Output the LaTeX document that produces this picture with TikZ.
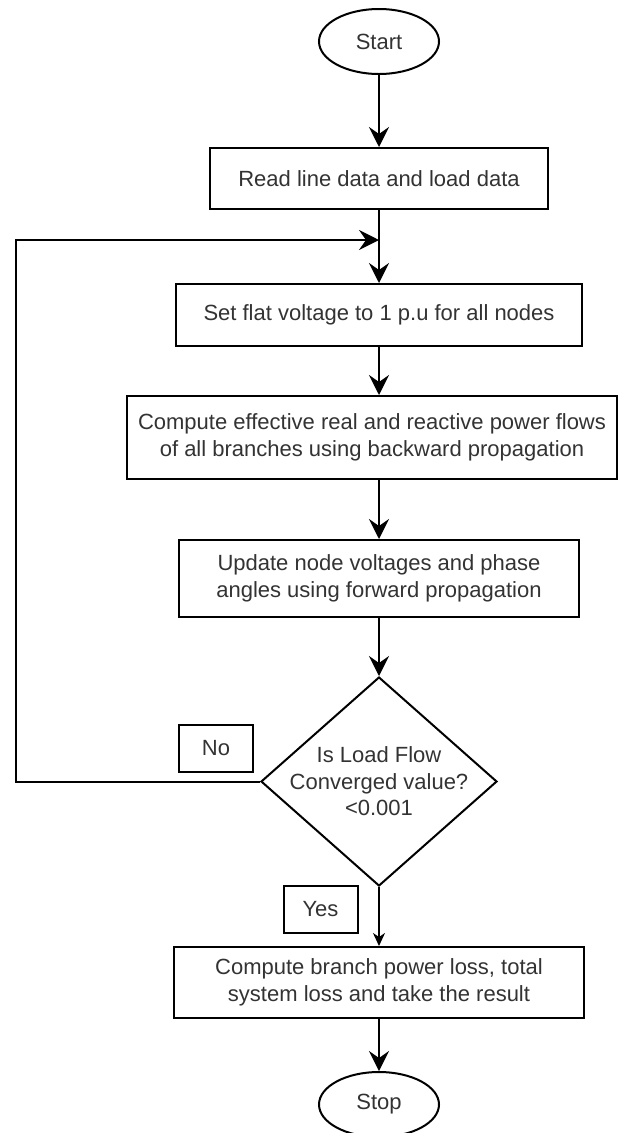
\documentclass[tikz,border=0pt]{standalone}
\usepackage{fontspec}
\setmainfont{Liberation Sans}
\usetikzlibrary{shapes.geometric,arrows.meta}

\begin{document}
\begin{tikzpicture}[x=1pt,y=-1pt,
  every node/.style={font=\fontsize{22}{26.5}\selectfont, text=black!80},
  box/.style={draw=black, line width=2pt, rectangle, inner sep=0pt, align=center},
  term/.style={draw=black, line width=2pt, ellipse, minimum width=120pt, minimum height=65pt, inner sep=0pt},
  tag/.style={draw=black, line width=2pt, rectangle, minimum width=74pt, minimum height=47pt, inner sep=0pt},
  decision/.style={draw=black, line width=2pt, diamond, minimum width=236pt, minimum height=209pt, inner sep=0pt},
  flow/.style={line width=2pt, -{Stealth[length=20pt,width=20pt,inset=7pt]}},
  thinflow/.style={line width=1.2pt, -{Stealth[length=13pt,width=12pt,inset=4pt]}}
]
\clip (0,0) rectangle (619,1133);
\fill[white] (0,0) rectangle (619,1133);

% process steps
\node[term] (start) at (379,41.5) {Start};
\node[box, minimum width=338pt, minimum height=61pt] (read) at (379,178.5) {Read line data and load data};
\node[box, minimum width=406pt, minimum height=62pt] (set) at (379,315) {Set flat voltage to 1 p.u for all nodes};
\node[box, minimum width=490pt, minimum height=83pt] (comp) at (372,437.5)
  {Compute effective real and reactive power flows\\of all branches using backward propagation};
\node[box, minimum width=400pt, minimum height=77pt] (upd) at (379,578.5)
  {Update node voltages and phase\\angles using forward propagation};
\node[decision, label={[align=center]center:Is Load Flow\\Converged value?\\<0.001}] (dec) at (379,781.5) {};
\node[tag] (no) at (216,748) {No};
\node[tag] (yes) at (320.5,909.5) {Yes};
\node[box, minimum width=410pt, minimum height=71pt] (fin) at (379,982.5)
  {Compute branch power loss, total\\system loss and take the result};
\node[term] (stop) at (379,1104.5) {Stop};

% loop-back points
\coordinate (join) at (379,240);
\coordinate (lc) at (16,240);

% connectors
\draw[flow] (start.south) -- (read.north);
\draw[flow] (read.south) -- (set.north);
\draw[flow] (dec.west) -| (lc) -- (join);
\draw[flow] (set.south) -- (set.south |- comp.north);
\draw[flow] (upd.north |- comp.south) -- (upd.north);
\draw[flow] (upd.south) -- (dec.north);
\draw[thinflow] (dec.south) -- (fin.north);
\draw[flow] (fin.south) -- (stop.north);
\end{tikzpicture}
\end{document}
